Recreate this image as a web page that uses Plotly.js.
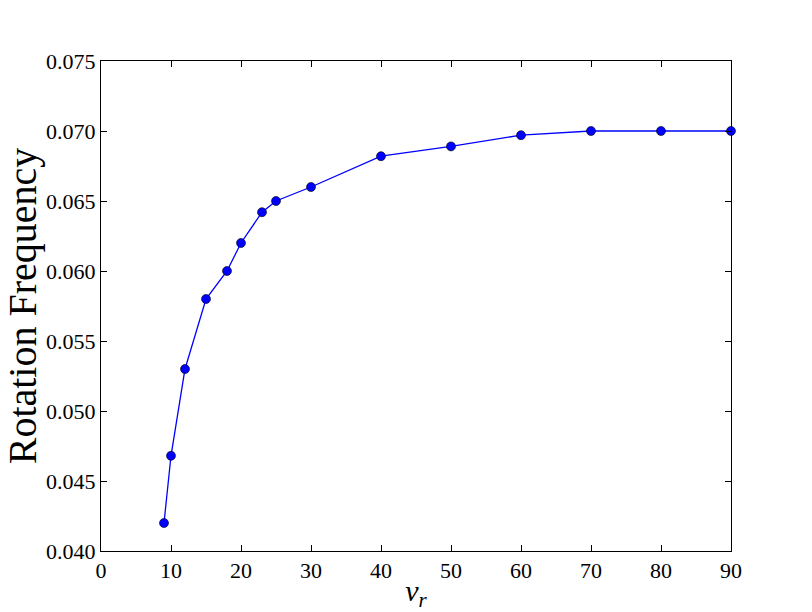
<!DOCTYPE html>
<html>
<head>
<meta charset="utf-8">
<script src="https://cdn.plot.ly/plotly-3.0.1.min.js"></script>
<style>
  body { margin: 0; background: #fff; }
  #chart { width: 812px; height: 612px; }
</style>
</head>
<body>
<div id="chart"></div>
<script>
// values
var nu_r = [9, 10, 12, 15, 18, 20, 23, 25, 30, 40, 50, 60, 70, 80, 90];
var rotFreq = [0.042, 0.0468, 0.053, 0.058, 0.060, 0.062, 0.0642, 0.065, 0.066,
               0.0682, 0.0689, 0.0697, 0.070, 0.070, 0.070];

var xTicks = [0, 10, 20, 30, 40, 50, 60, 70, 80, 90];
var yTicks = [0.040, 0.045, 0.050, 0.055, 0.060, 0.065, 0.070, 0.075];

var serif = 'Liberation Serif, DejaVu Serif, serif';

var trace = {
    x: nu_r,
    y: rotFreq,
    mode: 'lines+markers',
    type: 'scatter',
    cliponaxis: false,
    line: { color: '#0000ff', width: 1.3 },
    marker: { color: '#0000ff', size: 9, line: { color: '#000000', width: 0.6 } }
};

var axisCommon = {
    showgrid: false,
    zeroline: false,
    showline: true,
    linecolor: '#000',
    linewidth: 1,
    mirror: 'ticks',
    ticks: 'inside',
    ticklen: 6,
    tickwidth: 1,
    tickcolor: '#000',
    tickfont: { family: serif, size: 22, color: '#000' }
};

var layout = {
    width: 812,
    height: 612,
    margin: { l: 101, r: 81, t: 61, b: 61 },
    paper_bgcolor: '#fff',
    plot_bgcolor: '#fff',
    showlegend: false,
    xaxis: Object.assign({}, axisCommon, {
        range: [0, 90],
        tickvals: xTicks,
        ticktext: xTicks.map(String),
        title: { text: '<i>ν<sub>r</sub></i>', font: { family: serif, size: 30, color: '#000' }, standoff: 0 }
    }),
    yaxis: Object.assign({}, axisCommon, {
        range: [0.040, 0.075],
        tickvals: yTicks,
        ticktext: yTicks.map(function (v) { return v.toFixed(3); }),
        title: { text: 'Rotation Frequency', font: { family: serif, size: 40, color: '#000' }, standoff: 6 }
    })
};

Plotly.newPlot('chart', [trace], layout, { displayModeBar: false, staticPlot: true });
</script>
</body>
</html>
